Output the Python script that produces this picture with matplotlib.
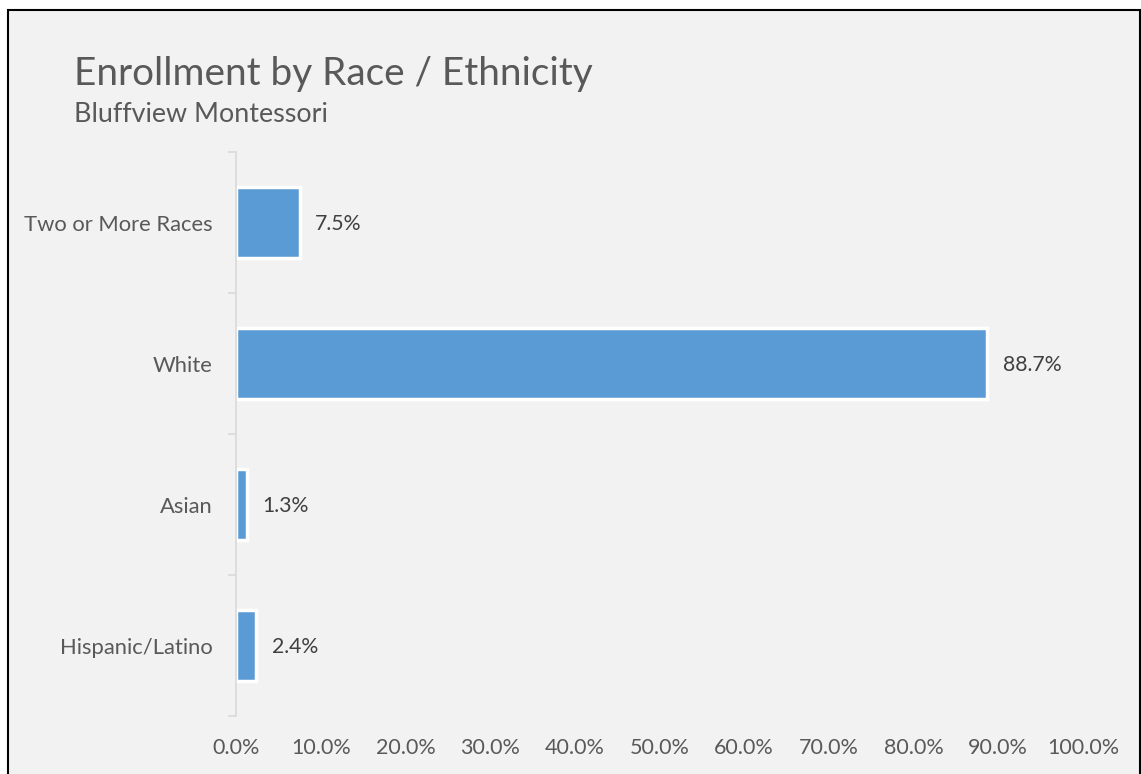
import matplotlib
matplotlib.use("Agg")
import matplotlib.pyplot as plt
from matplotlib.patches import Rectangle
from matplotlib.ticker import FuncFormatter, MultipleLocator

categories = ["Hispanic/Latino", "Asian", "White", "Two or More Races"]
values = [2.4, 1.3, 88.7, 7.5]
title = "Enrollment by Race / Ethnicity"
subtitle = "Bluffview Montessori"

plt.rcParams['font.family'] = ['Lato', 'DejaVu Sans']

W, H = 1141, 774
fig = plt.figure(figsize=(W / 100, H / 100), dpi=100, facecolor="white")

# chart area background with black border
fig.patches.append(Rectangle((8 / W, -0.05), (1140 - 8) / W, 1.05 - 10 / H,
                             transform=fig.transFigure, facecolor="#f2f2f2",
                             edgecolor="black", linewidth=1.5, zorder=-10))

ax = fig.add_axes([236 / W, 1 - 716 / H, (1083 - 236) / W, (716 - 152) / H])
ax.set_facecolor("none")
ax.set_zorder(5)

ypos = list(range(len(categories)))
ax.barh(ypos, values, height=0.5, color="#5b9bd5", edgecolor="white", linewidth=2.5)
for y, v in zip(ypos, values):
    ax.text(v + 1.8, y - 0.01, f"{v:.1f}%", va="center", ha="left", fontsize=15.3, color="#404040")

ax.set_xlim(0, 100)
ax.set_ylim(-0.5, len(categories) - 0.5)
ax.xaxis.set_major_locator(MultipleLocator(10))
ax.xaxis.set_major_formatter(FuncFormatter(lambda x, p: f"{x:.1f}%"))
ax.set_yticks(ypos)
ax.set_yticklabels(categories)
ax.set_yticks([i - 0.5 for i in range(len(categories) + 1)], minor=True)

for s in ["top", "right", "bottom"]:
    ax.spines[s].set_visible(False)
ax.spines["left"].set_color("#d9d9d9")
ax.spines["left"].set_linewidth(1.2)

ax.tick_params(axis="x", length=0, labelsize=15.5, labelcolor="#595959", pad=16)
ax.tick_params(axis="y", which="major", length=0, labelsize=15.8, labelcolor="#595959", pad=17)
ax.tick_params(axis="y", which="minor", length=6, color="#d9d9d9", width=1.2)

fig.text(74 / W, 1 - 85 / H, title, fontsize=27.9, color="#595959", ha="left", va="baseline")
fig.text(74 / W, 1 - 122 / H, subtitle, fontsize=19.4, color="#595959", ha="left", va="baseline")

fig.savefig("out.png", dpi=100, facecolor="white")
